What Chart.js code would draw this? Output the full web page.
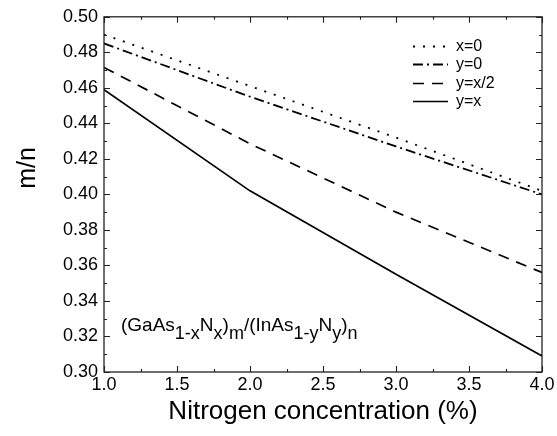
<!DOCTYPE html>
<html>
<head>
<meta charset="utf-8">
<script src="https://cdn.jsdelivr.net/npm/chart.js@4.4.1/dist/chart.umd.min.js"></script>
<style>
  html, body { margin: 0; padding: 0; background: #fff; }
  canvas { display: block; }
</style>
</head>
<body>
<canvas id="c" width="557" height="436"></canvas>
<script>
// Nitrogen concentration (%) and the m/n ratio for each strain condition
const nitrogen = [1, 2, 3, 4];
const mnX0 = [0.490, 0.461, 0.432, 0.402];
const mnY0 = [0.485, 0.455, 0.427, 0.400];
const mnYHalfX = [0.4715, 0.4285, 0.390, 0.356];
const mnYEqX = [0.459, 0.402, 0.355, 0.309];

const seriesLabels = ['x=0', 'y=0', 'y=x/2', 'y=x'];
const xTickStep = 0.5, xMinorStep = 0.25;
const yTickStep = 0.02, yMinorStep = 0.01;

const FONT = '"Liberation Sans", Arial, Helvetica, sans-serif';

function pts(ys) { return nitrogen.map((x, i) => ({ x: x, y: ys[i] })); }

const styles = [
  { borderDash: [2, 8], borderWidth: 1.8 },
  { borderDash: [10, 4, 2, 4], borderWidth: 1.8 },
  { borderDash: [11, 8], borderWidth: 1.7 },
  { borderDash: [], borderWidth: 1.7 }
];
const values = [mnX0, mnY0, mnYHalfX, mnYEqX];

const datasets = values.map((v, i) => ({
  label: seriesLabels[i],
  data: pts(v),
  borderColor: '#000',
  backgroundColor: '#000',
  borderWidth: styles[i].borderWidth,
  borderDash: styles[i].borderDash,
  pointRadius: 0,
  tension: 0,
  fill: false
}));

// Frame with inward major/minor ticks on all four sides
const framePlugin = {
  id: 'frame',
  afterDatasetsDraw(chart) {
    const { ctx, chartArea: a, scales } = chart;
    const xs = scales.x, ys = scales.y;
    ctx.save();
    ctx.strokeStyle = '#222';
    ctx.lineWidth = 1.3;
    ctx.strokeRect(a.left, a.top, a.right - a.left, a.bottom - a.top);
    ctx.lineWidth = 1.1;
    ctx.beginPath();
    for (let v = xs.min; v <= xs.max + 1e-9; v += xMinorStep) {
      const major = Math.abs(v / xTickStep - Math.round(v / xTickStep)) < 1e-6;
      const len = major ? 6 : 3;
      const px = Math.round(xs.getPixelForValue(v)) + 0.5;
      ctx.moveTo(px, a.bottom); ctx.lineTo(px, a.bottom - len);
      ctx.moveTo(px, a.top); ctx.lineTo(px, a.top + len);
    }
    for (let v = ys.min; v <= ys.max + 1e-9; v += yMinorStep) {
      const major = Math.abs(v / yTickStep - Math.round(v / yTickStep)) < 1e-6;
      const len = major ? 6 : 3;
      const py = Math.round(ys.getPixelForValue(v)) + 0.5;
      ctx.moveTo(a.left, py); ctx.lineTo(a.left + len, py);
      ctx.moveTo(a.right, py); ctx.lineTo(a.right - len, py);
    }
    ctx.stroke();
    ctx.restore();
  }
};

// Legend with line samples, y-axis title and the structure formula
const decorPlugin = {
  id: 'decor',
  afterDraw(chart) {
    const { ctx, chartArea: a } = chart;
    ctx.save();
    ctx.fillStyle = '#000';

    // legend
    const lx0 = a.left + 309, lx1 = a.left + 344, ly0 = a.top + 29, dy = 18.4;
    chart.data.datasets.forEach((ds, i) => {
      const y = Math.round(ly0 + i * dy) + 0.5;
      ctx.strokeStyle = ds.borderColor;
      ctx.lineWidth = ds.borderWidth;
      ctx.setLineDash(ds.borderDash);
      ctx.beginPath();
      ctx.moveTo(lx0, y); ctx.lineTo(lx1, y);
      ctx.stroke();
      ctx.setLineDash([]);
      ctx.font = '16px ' + FONT;
      ctx.textBaseline = 'middle';
      ctx.textAlign = 'left';
      ctx.fillText(ds.label, lx1 + 8, y);
    });

    // y-axis title
    ctx.save();
    ctx.translate(28, 168);
    ctx.rotate(-Math.PI / 2);
    ctx.font = '25px ' + FONT;
    ctx.textAlign = 'center';
    ctx.textBaseline = 'middle';
    ctx.fillText('m/n', 0, 0);
    ctx.restore();

    // formula with subscripts
    const parts = [
      ['(GaAs', 0], ['1-x', 1], ['N', 0], ['x', 1], [')', 0], ['m', 1],
      ['/(InAs', 0], ['1-y', 1], ['N', 0], ['y', 1], [')', 0], ['n', 1]
    ];
    let x = a.left + 17;
    const base = a.top + 314;
    ctx.textAlign = 'left';
    ctx.textBaseline = 'alphabetic';
    parts.forEach(([t, sub]) => {
      ctx.font = (sub ? '18px ' : '19px ') + FONT;
      ctx.fillText(t, x, base + (sub ? 8 : 0));
      x += ctx.measureText(t).width;
    });
    ctx.restore();
  }
};

new Chart(document.getElementById('c'), {
  type: 'line',
  data: { datasets },
  options: {
    responsive: false,
    animation: false,
    devicePixelRatio: 1,
    layout: { padding: { left: 0, right: 15, top: 16, bottom: 0 } },
    plugins: { legend: { display: false }, tooltip: { enabled: false } },
    scales: {
      x: {
        type: 'linear',
        min: 1, max: 4,
        ticks: {
          stepSize: xTickStep,
          callback: v => v.toFixed(1),
          font: { size: 18, family: FONT },
          color: '#000',
          padding: 2,
          maxRotation: 0
        },
        grid: { display: false, drawTicks: false },
        border: { display: false },
        title: {
          display: true,
          text: 'Nitrogen concentration (%)',
          font: { size: 26, family: FONT },
          color: '#000',
          padding: { top: 0, bottom: 9 }
        },
        afterFit(scale) { scale.height = 64; }
      },
      y: {
        min: 0.30, max: 0.50,
        ticks: {
          stepSize: yTickStep,
          callback: v => v.toFixed(2),
          font: { size: 18, family: FONT },
          color: '#000',
          padding: 6
        },
        grid: { display: false, drawTicks: false },
        border: { display: false },
        afterFit(scale) { scale.width = 104; }
      }
    }
  },
  plugins: [framePlugin, decorPlugin]
});
</script>
</body>
</html>
